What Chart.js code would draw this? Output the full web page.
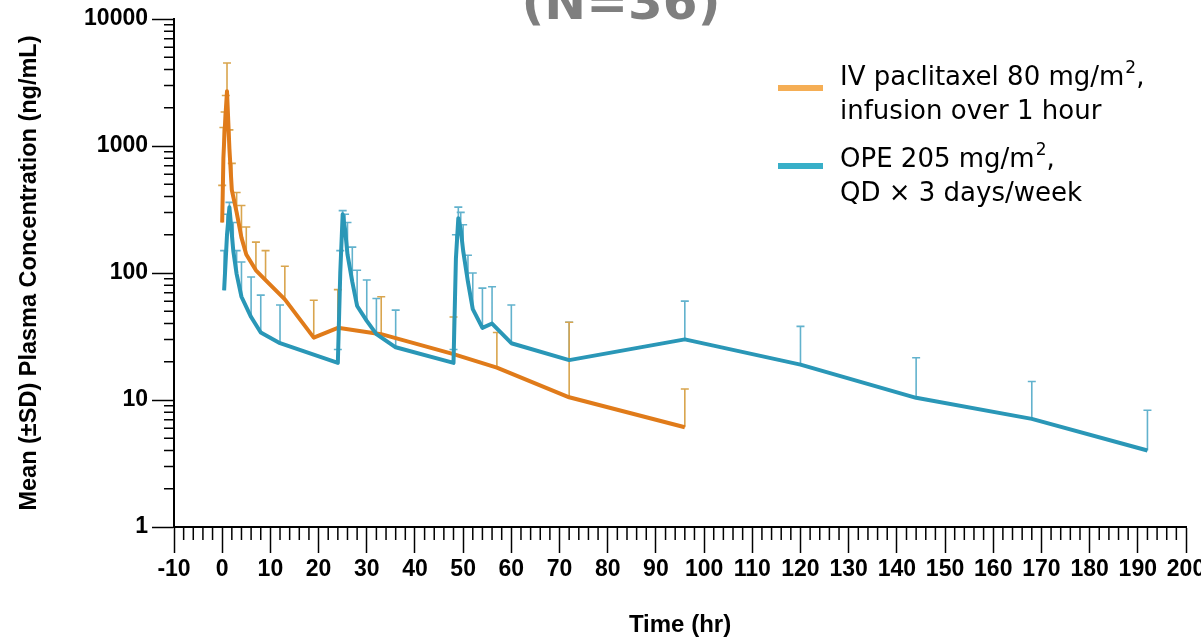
<!DOCTYPE html>
<html>
<head>
<meta charset="utf-8">
<script src="https://cdn.jsdelivr.net/npm/chart.js@4.4.1/dist/chart.umd.min.js"></script>
<style>
  html, body { margin: 0; padding: 0; background: #fff; overflow: hidden; }
  #wrap { position: relative; width: 1220px; height: 640px; }
</style>
</head>
<body>
<div id="wrap"><canvas id="pkChart"></canvas></div>
<script>
// IV paclitaxel 80 mg/m2, 1 hr infusion
const ivTime  = [0, 0.25, 0.5, 0.75, 1, 1.5, 2, 3, 4, 5, 7, 9, 13, 19, 24, 33, 48, 57, 72, 96];
const ivMean  = [250, 800, 1300, 1900, 2700, 950, 450, 300, 190, 140, 105, 88, 62, 31, 37, 33, 23, 18, 10.5, 6.1];
const ivUpper = [490, 1400, 1850, 2500, 4500, 1340, 730, 430, 340, 230, 175, 150, 113, 61, 74, 65, 45, 34, 41, 12.2]; // mean + SD

// OPE 205 mg/m2, QD x 3 days/week
const opeTime  = [0.4, 1, 1.5, 2.3, 3, 4, 6, 8, 12, 24, 24.5, 25, 25.5, 26, 27, 28, 30, 32, 36,
                  48, 48.5, 49, 49.5, 50, 51, 52, 54, 56, 60, 72, 96, 120, 144, 168, 192];
const opeMean  = [73, 200, 330, 150, 98, 65, 45, 34, 28, 19.6, 100, 290, 220, 140, 85, 55, 42, 33, 26,
                  19.6, 130, 270, 220, 150, 85, 52, 37, 40, 28, 20.6, 30, 19, 10.4, 7.1, 4.0];
const opeUpper = [150, 290, 360, 250, 150, 122, 93, 67, 56, 25, 150, 310, 290, 250, 160, 105, 88, 63, 51,
                  25, 200, 330, 300, 240, 138, 100, 76, 78, 56, 41, 60, 38, 21.5, 14, 8.3];

const yTickValues = [1, 10, 100, 1000, 10000];
// legend lines as [normal text, superscript, normal text]
const legendText = [
    [['IV paclitaxel 80 mg/m', '2', ','], ['infusion over 1 hour', '', '']],
    [['OPE 205 mg/m', '2', ','], ['QD \u00D7 3 days/week', '', '']],
];
const legendColors = ['#F5AE55', '#38AFC8'];
const titleText = '(N=36)';

const toPoints = (t, m, hi) => t.map((v, i) => ({ x: v, y: m[i], hi: hi[i] }));

const errorBars = {
    id: 'errorBars',
    beforeDatasetsDraw(chart) {
        const { ctx, scales: { x, y } } = chart;
        chart.data.datasets.forEach(ds => {
            ctx.save();
            ctx.strokeStyle = ds.barColor;
            ctx.lineWidth = 1.6;
            ctx.beginPath();
            ds.data.forEach(p => {
                const px = x.getPixelForValue(p.x);
                const y0 = y.getPixelForValue(p.y);
                const y1 = y.getPixelForValue(p.hi);
                ctx.moveTo(px, y0);
                ctx.lineTo(px, y1);
                ctx.moveTo(px - 4, y1);
                ctx.lineTo(px + 4, y1);
            });
            ctx.stroke();
            ctx.restore();
        });
    },
};

const minorTicks = {
    id: 'minorTicks',
    afterDraw(chart) {
        const { ctx, scales: { x, y }, chartArea: a } = chart;
        ctx.save();
        ctx.strokeStyle = '#000';
        ctx.lineWidth = 1.5;
        ctx.beginPath();
        for (let v = x.min; v <= x.max; v += 2) {
            if (v % 10 === 0) continue;
            const px = x.getPixelForValue(v);
            ctx.moveTo(px, a.bottom);
            ctx.lineTo(px, a.bottom + 13);
        }
        for (let d = 1; d < 10000; d *= 10) {
            for (let k = 2; k < 10; k++) {
                const py = y.getPixelForValue(k * d);
                ctx.moveTo(a.left - 10, py);
                ctx.lineTo(a.left, py);
            }
        }
        ctx.stroke();
        ctx.restore();
    },
};

const legendFont = "'DejaVu Sans', sans-serif";

function drawRich(ctx, parts, x, y) {
    ctx.font = '26px ' + legendFont;
    ctx.fillText(parts[0], x, y);
    x += ctx.measureText(parts[0]).width;
    if (parts[1]) {
        ctx.font = '17px ' + legendFont;
        ctx.fillText(parts[1], x + 1, y - 9);
        x += ctx.measureText(parts[1]).width + 1;
    }
    ctx.font = '26px ' + legendFont;
    if (parts[2]) ctx.fillText(parts[2], x, y);
}

const titleAndLegend = {
    id: 'titleAndLegend',
    afterDraw(chart) {
        const { ctx } = chart;
        ctx.save();
        ctx.fillStyle = '#7F7F7F';
        ctx.font = "bold 50px 'DejaVu Sans'";
        ctx.textAlign = 'center';
        ctx.textBaseline = 'alphabetic';
        ctx.fillText(titleText, 621, 19);

        const swatchY = [88, 166];
        const textY = [[78, 112], [160, 194]];
        ctx.textAlign = 'left';
        ctx.textBaseline = 'middle';
        ctx.fillStyle = '#000';
        legendText.forEach((lines, i) => {
            ctx.strokeStyle = legendColors[i];
            ctx.lineWidth = 6;
            ctx.beginPath();
            ctx.moveTo(778, swatchY[i]);
            ctx.lineTo(823, swatchY[i]);
            ctx.stroke();
            lines.forEach((parts, j) => drawRich(ctx, parts, 840, textY[i][j]));
        });
        ctx.restore();
    },
};

const narrowFont = "'Liberation Sans Narrow', 'Liberation Sans', Arial, sans-serif";
const sansFont = "'Liberation Sans', Arial, sans-serif";

new Chart(document.getElementById('pkChart'), {
    type: 'line',
    data: {
        datasets: [
            {
                label: 'OPE 205 mg/m2, QD x 3 days/week',
                data: toPoints(opeTime, opeMean, opeUpper),
                borderColor: '#2A97B7',
                barColor: '#62B2CD',
                borderWidth: 4,
                pointRadius: 0,
                tension: 0,
                borderJoinStyle: 'round',
            },
            {
                label: 'IV paclitaxel 80 mg/m2, infusion over 1 hour',
                data: toPoints(ivTime, ivMean, ivUpper),
                borderColor: '#E07B1A',
                barColor: '#D9A54E',
                borderWidth: 4,
                pointRadius: 0,
                tension: 0,
                borderJoinStyle: 'round',
            },
        ],
    },
    options: {
        responsive: true,
        maintainAspectRatio: false,
        animation: false,
        layout: { padding: { top: 19, right: 34, left: 0, bottom: 0 } },
        plugins: {
            legend: { display: false },
            tooltip: { enabled: false },
        },
        scales: {
            x: {
                type: 'linear',
                min: -10,
                max: 200,
                border: { color: '#000', width: 2 },
                grid: { drawOnChartArea: false, color: '#000', tickColor: '#000', tickLength: 26, tickWidth: 1.5 },
                ticks: {
                    stepSize: 10,
                    color: '#000',
                    padding: 3,
                    maxRotation: 0,
                    autoSkip: false,
                    font: { family: narrowFont, weight: 'bold', size: 23 },
                },
                title: {
                    display: true,
                    text: 'Time (hr)',
                    color: '#000',
                    font: { family: narrowFont, weight: 'bold', size: 24, lineHeight: 1.2 },
                    padding: { top: 0, bottom: 0 },
                },
                afterFit(s) { s.height = 113; },
            },
            y: {
                type: 'logarithmic',
                min: 1,
                max: 10000,
                afterBuildTicks(s) { s.ticks = yTickValues.map(v => ({ value: v })); },
                border: { color: '#000', width: 2 },
                grid: { drawOnChartArea: false, color: '#000', tickColor: '#000', tickLength: 22, tickWidth: 1.5 },
                ticks: {
                    color: '#000',
                    padding: 4,
                    font: { family: sansFont, weight: 'bold', size: 23 },
                    callback: v => String(v),
                },
                title: {
                    display: true,
                    text: 'Mean (\u00B1SD) Plasma Concentration (ng/mL)',
                    color: '#000',
                    font: { family: sansFont, weight: 'bold', size: 23.5, lineHeight: 1.2 },
                    padding: { top: 15, bottom: 0 },
                },
                afterFit(s) { s.width = 174; },
            },
        },
    },
    plugins: [errorBars, minorTicks, titleAndLegend],
});
</script>
</body>
</html>
